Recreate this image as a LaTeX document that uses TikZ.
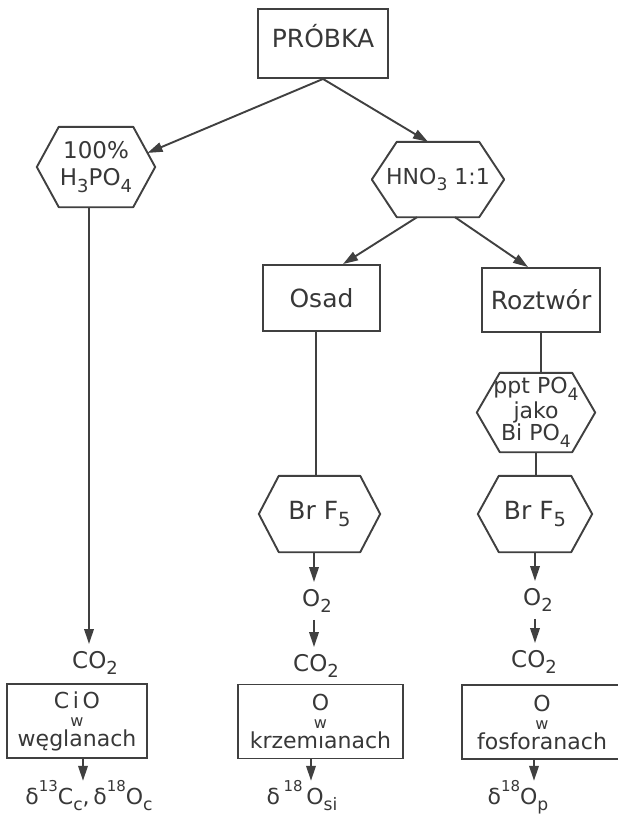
\documentclass[tikz,border=0pt]{standalone}
\usepackage{fontspec}
\setmainfont{DejaVu Sans}
\usetikzlibrary{arrows.meta,calc}
\definecolor{ink}{HTML}{404040}
\definecolor{txt}{HTML}{383838}
\newcommand{\lo}[1]{\raisebox{-0.3em}{\scalebox{0.78}{#1}}}
\newcommand{\hi}[1]{\raisebox{0.55em}{\scalebox{0.68}{#1}}}
\begin{document}
\begin{tikzpicture}[x=1pt,y=-1pt,
  line/.style={draw=ink, line width=1.9pt},
  arr/.style={draw=ink, line width=1.9pt, -{Triangle[length=15pt,width=9.5pt]}},
  boxnode/.style={rectangle, draw=ink, line width=1.9pt, inner sep=0pt, text=txt, align=center},
  hexnode/.style={rectangle, draw=none, inner sep=0pt, text=txt, align=center},
  lbl/.style={inner sep=0pt, outer sep=7pt, text=txt, font=\fontsize{23}{24}\selectfont},
  dlt/.style={inner sep=0pt, outer sep=0pt, text=txt, anchor=base, font=\fontsize{22}{24}\selectfont},
  big/.style={font=\fontsize{25}{27}\selectfont},
  boxtxt/.style={font=\fontsize{22}{18}\selectfont},
]
\path[use as bounding box, fill=white] (0,0) rectangle (618,814);

% main nodes
\node[boxnode, big, minimum width=130pt, minimum height=69pt, text height=22pt, text depth=13.5pt] (probka) at (323,43.5) {PRÓBKA};
\node[hexnode, minimum width=118pt, minimum height=80pt, font=\fontsize{23}{26.5}\selectfont] (hex1) at (96,167) {100\%\\H\lo{3}PO\lo{4}};
\node[hexnode, minimum width=132pt, minimum height=75pt, font=\fontsize{22}{26}\selectfont] (hex2) at (438,179.5) {HNO\lo{3} 1:1};
\node[boxnode, big, minimum width=117pt, minimum height=66pt] (osad) at (321.5,298) {Osad};
\node[boxnode, big, minimum width=118pt, minimum height=64pt] (roztwor) at (541,300) {Roztwór};
\node[hexnode, minimum width=118pt, minimum height=79pt, font=\fontsize{22}{22.5}\selectfont] (ppt) at (536,412.5) {ppt PO\lo{4}\\jako\\Bi PO\lo{4}};
\node[hexnode, big, minimum width=121pt, minimum height=76pt] (brf1) at (319.5,514) {Br F\lo{5}};
\node[hexnode, big, minimum width=114pt, minimum height=76pt] (brf2) at (535,514) {Br F\lo{5}};

% hexagon outlines
\foreach \n/\i in {hex1/22,hex2/25,ppt/23,brf1/20,brf2/21}{
  \draw[line, line join=round] (\n.west) -- ($(\n.north west)+(\i,0)$) -- ($(\n.north east)+(-\i,0)$) -- (\n.east) -- ($(\n.south east)+(-\i,0)$) -- ($(\n.south west)+(\i,0)$) -- cycle;
}

% intermediate labels
\node[lbl] (co2a) at (95,663) {CO\lo{2}};
\node[lbl] (o2b) at (317,601) {O\lo{2}};
\node[lbl] (co2b) at (316,666) {CO\lo{2}};
\node[lbl] (o2c) at (538,600) {O\lo{2}};
\node[lbl] (co2c) at (534,662) {CO\lo{2}};

% result boxes
\node[boxnode, boxtxt, minimum width=140pt, minimum height=74pt] (box1) at (77,721) {C\,i\,O\\[0pt]{\fontsize{16}{18}\selectfont w}\\[2pt]węglanach};
\node[boxnode, boxtxt, minimum width=165pt, minimum height=74pt] (box2) at (320.5,721.5) {O\\[0pt]{\fontsize{16}{18}\selectfont w}\\[2pt]krzemıanach};
\node[boxnode, boxtxt, minimum width=160pt, minimum height=74pt] (box3) at (542,722) {O\\[0pt]{\fontsize{16}{18}\selectfont w}\\[2pt]fosforanach};

% final labels
\node[dlt] (d1) at (89,804) {δ\hi{13}C\lo{c},\,δ\hi{18}O\lo{c}};
\node[dlt] (d2) at (302,804) {δ\,\hi{18}\,O\lo{si}};
\node[dlt] (d3) at (518,804) {δ\hi{18}O\lo{p}};

% ports
\coordinate (h1tr) at ($(hex1.north east)+(-22,0)$);
\coordinate (p1) at ($(h1tr)!0.65!(hex1.east)$);
\coordinate (p2) at ($(hex2.north)+(-10,0)$);
\coordinate (h2a) at ($(hex2.south)+(-21,0)$);
\coordinate (h2b) at ($(hex2.south)+(17,0)$);
\coordinate (osin) at ($(osad.north)+(21.5,0)$);
\coordinate (rzin) at ($(roztwor.north)+(-13,0)$);
\coordinate (h1o) at ($(hex1.south)+(-7,0)$);
\coordinate (oso) at ($(osad.south)+(-5.5,0)$);
\coordinate (b1o) at ($(brf1.south)+(-5.5,0)$);
\coordinate (x1) at ($(box1.south)+(6,0)$);
\coordinate (x2) at ($(box2.south)+(-9.5,0)$);
\coordinate (x3) at ($(box3.south)+(-8,0)$);

% connectors
\draw[arr] (probka.south) -- (p1);
\draw[arr] (probka.south) -- (p2);
\draw[arr] (h2a) -- (osin);
\draw[arr] (h2b) -- (rzin);
\draw[arr] (h1o) -- (h1o |- co2a.north);
\draw[line] (oso) -- (oso |- brf1.north);
\draw[line] (roztwor.south) -- (roztwor.south |- ppt.north);
\draw[line] (ppt.south) -- (ppt.south |- brf2.north);
\draw[arr] (b1o) -- (b1o |- o2b.north);
\draw[arr] (b1o |- o2b.south) -- (b1o |- co2b.north);
\draw[arr] (brf2.south) -- (brf2.south |- o2c.north);
\draw[arr] (brf2.south |- o2c.south) -- (brf2.south |- co2c.north);
\draw[arr] (x1) -- (x1 |- d1.north);
\draw[arr] (x2) -- (x2 |- d2.north);
\draw[arr] (x3) -- (x3 |- d3.north);
\end{tikzpicture}
\end{document}
